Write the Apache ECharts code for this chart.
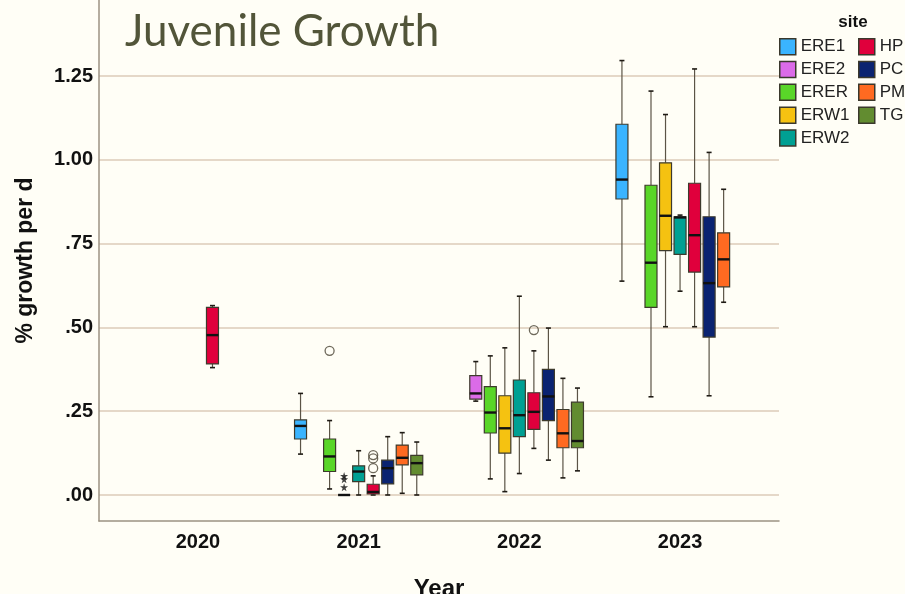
<!DOCTYPE html>
<html>
<head>
<meta charset="utf-8">
<script src="https://cdn.jsdelivr.net/npm/echarts@6/dist/echarts.min.js"></script>
<style>
html,body{margin:0;padding:0;background:#fffef6;}
#chart{width:905px;height:594px;}
</style>
</head>
<body>
<div id="chart"></div>
<script>
// ---------------- data ----------------
const years = ['2020', '2021', '2022', '2023'];
const sites = ['ERE1', 'ERE2', 'ERER', 'ERW1', 'ERW2', 'HP', 'PC', 'PM', 'TG'];
const yTicks = [0, 0.25, 0.5, 0.75, 1.0, 1.25];
// per site, per year: [min, Q1, median, Q3, max]; null = not sampled
const ERE1 = [null, [0.122, 0.167, 0.206, 0.224, 0.303], null, [0.638, 0.883, 0.941, 1.106, 1.296]];
const ERE2 = [null, null, [0.280, 0.286, 0.303, 0.356, 0.398], null];
const ERER = [null, [0.018, 0.070, 0.115, 0.167, 0.222], [0.048, 0.185, 0.246, 0.323, 0.415], [0.293, 0.560, 0.693, 0.924, 1.205]];
const ERW1 = [null, [0, 0, 0, 0, 0], [0.010, 0.125, 0.199, 0.296, 0.439], [0.502, 0.729, 0.833, 0.991, 1.135]];
const ERW2 = [null, [0, 0.040, 0.070, 0.087, 0.132], [0.064, 0.174, 0.238, 0.343, 0.593], [0.608, 0.718, 0.828, 0.830, 0.835]];
const HP   = [[0.380, 0.391, 0.477, 0.560, 0.565], [0, 0.003, 0.009, 0.032, 0.057], [0.139, 0.196, 0.248, 0.305, 0.430], [0.502, 0.665, 0.775, 0.930, 1.271]];
const PC   = [null, [0, 0.033, 0.080, 0.104, 0.174], [0.104, 0.222, 0.294, 0.375, 0.498], [0.296, 0.471, 0.632, 0.830, 1.022]];
const PM   = [null, [0.005, 0.090, 0.111, 0.149, 0.186], [0.051, 0.141, 0.184, 0.255, 0.348], [0.575, 0.621, 0.703, 0.782, 0.912]];
const TG   = [null, [0, 0.060, 0.095, 0.118, 0.158], [0.072, 0.141, 0.161, 0.277, 0.319], null];
// outliers: [yearIndex, site, value]
const mildOutliers = [[1, 'ERER', 0.430], [1, 'HP', 0.119], [1, 'HP', 0.109], [1, 'HP', 0.080], [2, 'HP', 0.492]];
const extremeOutliers = [[1, 'ERW1', 0.057], [1, 'ERW1', 0.047], [1, 'ERW1', 0.023]];

// ---------------- styling ----------------
const siteData = { ERE1, ERE2, ERER, ERW1, ERW2, HP, PC, PM, TG };
const colors = ['#3ab4ff', '#db6be8', '#59d628', '#f5c211', '#00a093', '#e0003c', '#0a2371', '#ff6a21', '#628c30'];
const Y_MIN = -0.0776, Y_MAX = 1.4767;
const SITE_STEP = 0.0904;   // dodge step (fraction of a year band)
const BOX_W = 12, CAP_W = 5;
const FONT = "'Liberation Sans', Arial, sans-serif";

function renderBox(siteIdx, color) {
  return function (params, api) {
    const x = api.value(0) + (siteIdx - 4) * SITE_STEP;
    const lo = api.coord([x, api.value(1)]);
    const q1 = api.coord([x, api.value(2)]);
    const md = api.coord([x, api.value(3)]);
    const q3 = api.coord([x, api.value(4)]);
    const hi = api.coord([x, api.value(5)]);
    const cx = lo[0];
    const wStyle = { stroke: '#5b5446', lineWidth: 1.2 };
    const cStyle = { stroke: '#1e1a14', lineWidth: 1.6 };
    return {
      type: 'group',
      children: [
        { type: 'line', shape: { x1: cx, y1: hi[1], x2: cx, y2: q3[1] }, style: wStyle },
        { type: 'line', shape: { x1: cx, y1: q1[1], x2: cx, y2: lo[1] }, style: wStyle },
        { type: 'line', shape: { x1: cx - CAP_W / 2, y1: hi[1], x2: cx + CAP_W / 2, y2: hi[1] }, style: cStyle },
        { type: 'line', shape: { x1: cx - CAP_W / 2, y1: lo[1], x2: cx + CAP_W / 2, y2: lo[1] }, style: cStyle },
        { type: 'rect', shape: { x: cx - BOX_W / 2, y: q3[1], width: BOX_W, height: q1[1] - q3[1] },
          style: { fill: color, stroke: '#3d3a2c', lineWidth: 1.2 } },
        { type: 'line', shape: { x1: cx - BOX_W / 2, y1: md[1], x2: cx + BOX_W / 2, y2: md[1] },
          style: { stroke: '#111', lineWidth: 2.4 } }
      ]
    };
  };
}

const series = sites.map((s, si) => ({
  name: s,
  type: 'custom',
  xAxisIndex: 2,
  yAxisIndex: 1,
  itemStyle: { color: colors[si] },
  encode: { x: 0, y: [1, 2, 3, 4, 5] },
  renderItem: renderBox(si, colors[si]),
  data: siteData[s].map((v, yi) => v ? [yi].concat(v) : null).filter(Boolean)
}));

function outlierPoints(list) {
  return list.map(o => [o[0] + (sites.indexOf(o[1]) - 4) * SITE_STEP, o[2]]);
}
series.push({
  type: 'scatter', xAxisIndex: 2, yAxisIndex: 1, silent: true,
  symbol: 'circle', symbolSize: 9,
  itemStyle: { color: 'rgba(255,254,246,0)', borderColor: '#4a4334', borderWidth: 1.3 },
  data: outlierPoints(mildOutliers)
});
series.push({
  type: 'scatter', xAxisIndex: 2, yAxisIndex: 1, silent: true,
  symbol: 'path://M50,0 L61,35 L98,35 L68,57 L79,91 L50,70 L21,91 L32,57 L2,35 L39,35 Z',
  symbolSize: 8,
  itemStyle: { color: '#111' },
  data: outlierPoints(extremeOutliers)
});

const legendCommon = {
  orient: 'vertical', icon: 'rect', itemWidth: 16, itemHeight: 16, itemGap: 5.3, padding: 0,
  itemStyle: { borderColor: '#3a382c', borderWidth: 1.5 },
  textStyle: { fontFamily: FONT, fontSize: 17, color: '#222' },
  top: 38
};

const option = {
  backgroundColor: '#fffef6',
  animation: false,
  color: colors,
  title: [
    { text: 'Juvenile Growth', left: 120, top: 5,
      textStyle: { fontFamily: 'Lato, sans-serif', fontSize: 44, fontWeight: 'normal', color: '#525539' } },
    { text: 'site', left: 848, top: 9, textAlign: 'center',
      textStyle: { fontFamily: FONT, fontSize: 17, fontWeight: 'bold', color: '#111' } }
  ],
  legend: [
    Object.assign({ left: 779, data: sites.slice(0, 5) }, legendCommon),
    Object.assign({ left: 858, data: sites.slice(5) }, legendCommon)
  ],
  grid: [
    { left: 99, right: 126, top: 0, bottom: 73, outerBoundsMode: 'none', containLabel: false },
    { left: 117.6, right: 144.6, top: 0, bottom: 73, outerBoundsMode: 'none', containLabel: false }
  ],
  xAxis: [
    { gridIndex: 0, type: 'value', min: 0, max: 1,
      axisLine: { show: true, onZero: false, lineStyle: { color: '#9c9282', width: 1.5 } },
      axisTick: { show: false }, axisLabel: { show: false }, splitLine: { show: false },
      name: 'Year', nameLocation: 'middle', nameGap: 56,
      nameTextStyle: { fontFamily: FONT, fontSize: 24, fontWeight: 'bold', color: '#111' } },
    { gridIndex: 1, type: 'category', data: years,
      axisLine: { show: false }, axisTick: { show: false },
      axisLabel: { margin: 11, fontFamily: FONT, fontSize: 20, fontWeight: 'bold', color: '#111' } },
    { gridIndex: 1, type: 'value', min: -0.5, max: 3.5, show: false }
  ],
  yAxis: [
    { gridIndex: 0, type: 'value', min: Y_MIN, max: Y_MAX,
      axisLine: { show: true, lineStyle: { color: '#9c9282', width: 1.5 } },
      axisTick: { show: false, customValues: yTicks },
      axisLabel: { customValues: yTicks, margin: 6, fontFamily: FONT, fontSize: 20, fontWeight: 'bold', color: '#111',
        formatter: v => v.toFixed(2).replace(/^0/, '') },
      splitLine: { show: true, lineStyle: { color: '#dccbb8', width: 1.5 } },
      name: '% growth per d', nameLocation: 'middle', nameGap: 62,
      nameTextStyle: { fontFamily: FONT, fontSize: 23, fontWeight: 'bold', color: '#111' } },
    { gridIndex: 1, type: 'value', min: Y_MIN, max: Y_MAX, show: false }
  ],
  series: series
};

const chart = echarts.init(document.getElementById('chart'), null, { renderer: 'canvas' });
chart.setOption(option);
</script>
</body>
</html>
